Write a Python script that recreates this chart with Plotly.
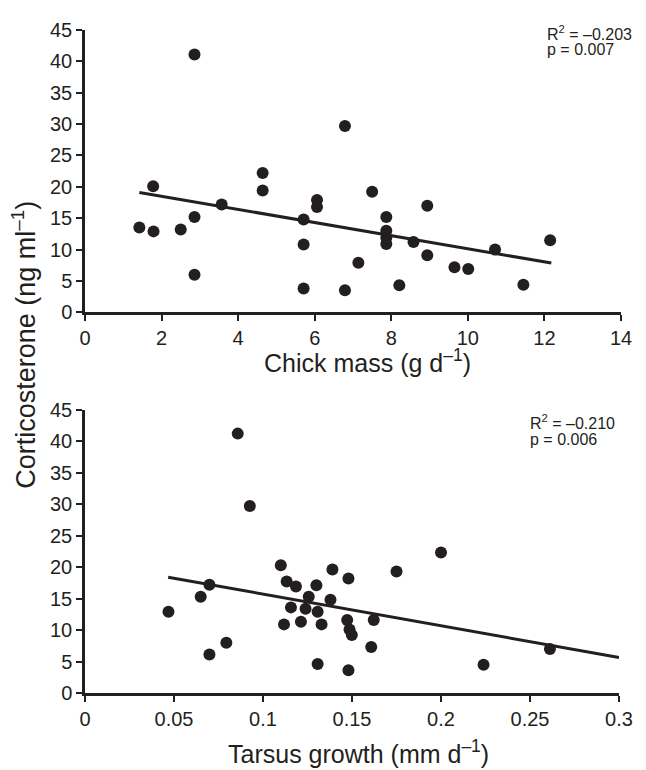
import plotly.graph_objects as go

# top panel: chick mass growth vs corticosterone
mass_x = [2.86, 6.79, 1.78, 4.64, 4.64, 3.57, 6.06, 6.06, 7.50, 2.86,
          5.71, 1.42, 1.79, 2.50, 5.71, 7.14, 2.86, 5.71, 6.79, 7.87,
          8.94, 7.87, 7.87, 7.87, 8.58, 8.94, 9.65, 10.01, 10.71, 12.15,
          11.45, 8.21]
mass_cort = [41.1, 29.7, 20.1, 22.2, 19.4, 17.2, 17.9, 16.8, 19.2, 15.2,
             14.8, 13.5, 12.9, 13.2, 10.8, 7.9, 6.0, 3.8, 3.5, 15.2,
             17.0, 13.0, 11.9, 10.9, 11.2, 9.1, 7.2, 6.9, 10.0, 11.5,
             4.4, 4.3]
mass_fit_x = [1.42, 12.18]
mass_fit_y = [19.1, 7.85]

# bottom panel: tarsus growth vs corticosterone
tarsus_x = [0.0858, 0.0926, 0.110, 0.139, 0.148, 0.0699, 0.1133, 0.1185, 0.130, 0.1257,
            0.1379, 0.0650, 0.0469, 0.1157, 0.1239, 0.1307, 0.1118, 0.1213, 0.1329, 0.1473,
            0.1486, 0.1499, 0.1608, 0.1622, 0.0794, 0.0699, 0.1307, 0.148, 0.200, 0.175,
            0.2612, 0.2239]
tarsus_cort = [41.2, 29.7, 20.3, 19.6, 18.2, 17.2, 17.7, 16.9, 17.1, 15.3,
               14.8, 15.3, 12.9, 13.6, 13.4, 12.9, 10.9, 11.3, 10.9, 11.6,
               10.1, 9.2, 7.3, 11.6, 8.0, 6.1, 4.6, 3.6, 22.3, 19.3,
               7.0, 4.5]
tarsus_fit_x = [0.0467, 0.3]
tarsus_fit_y = [18.4, 5.65]

INK = "#231f20"
FONT = "Liberation Sans, Arial, Helvetica, sans-serif"

fig = go.Figure()

fig.add_trace(go.Scatter(x=mass_x, y=mass_cort, mode="markers",
                         marker=dict(size=12, color=INK), xaxis="x", yaxis="y"))
fig.add_trace(go.Scatter(x=mass_fit_x, y=mass_fit_y, mode="lines",
                         line=dict(color=INK, width=3), xaxis="x", yaxis="y"))
fig.add_trace(go.Scatter(x=tarsus_x, y=tarsus_cort, mode="markers",
                         marker=dict(size=12, color=INK), xaxis="x2", yaxis="y2"))
fig.add_trace(go.Scatter(x=tarsus_fit_x, y=tarsus_fit_y, mode="lines",
                         line=dict(color=INK, width=3), xaxis="x2", yaxis="y2"))

axis_style = dict(showline=True, linecolor=INK, linewidth=2.5, ticks="outside",
                  ticklen=6, tickwidth=2, tickcolor=INK, showgrid=False,
                  zeroline=False, tickfont=dict(size=20, color=INK, family=FONT))

# page body has an 8px default margin, so the figure is 8px smaller on each side
fig.update_layout(
    width=638, height=762,
    margin=dict(l=77, r=17, t=11, b=77),
    paper_bgcolor="white", plot_bgcolor="white",
    showlegend=False,
    font=dict(family=FONT, color=INK),
    xaxis=dict(domain=[0, 1], range=[0, 14], dtick=2, anchor="y", **axis_style),
    yaxis=dict(domain=[0.5742, 1], range=[0, 45], dtick=5, anchor="x", **axis_style),
    xaxis2=dict(domain=[0, 0.9963], range=[0, 0.3], dtick=0.05, anchor="y2", **axis_style),
    yaxis2=dict(domain=[0, 0.4273], range=[0, 45], dtick=5, anchor="x2", **axis_style),
)

ann = [
    dict(text="Chick mass (g d<sup>\u20131</sup>)", x=0.527, y=0.5015, size=25),
    dict(text="Tarsus growth (mm d<sup>\u20131</sup>)", x=0.51, y=-0.089, size=25),
]
for a in ann:
    fig.add_annotation(text=a["text"], xref="paper", yref="paper", x=a["x"], y=a["y"],
                       xanchor="center", yanchor="middle", showarrow=False,
                       font=dict(size=a["size"], color=INK, family=FONT))

fig.add_annotation(text="Corticosterone (ng ml<sup>\u20131</sup>)", xref="paper", yref="paper",
                   x=-0.114, y=0.525, textangle=-90, xanchor="center", yanchor="middle",
                   showarrow=False, font=dict(size=27, color=INK, family=FONT))

# regression stats
stats = [
    ("R<sup>2</sup> = \u20130.203", 0.8585, 0.9956),
    ("p = 0.007", 0.8585, 0.9703),
    ("R<sup>2</sup> = \u20130.210", 0.8272, 0.4095),
    ("p = 0.006", 0.8272, 0.3828),
]
for txt, x, y in stats:
    fig.add_annotation(text=txt, xref="paper", yref="paper", x=x, y=y,
                       xanchor="left", yanchor="middle", showarrow=False,
                       font=dict(size=16, color=INK, family=FONT))

fig.write_html("out.html")
